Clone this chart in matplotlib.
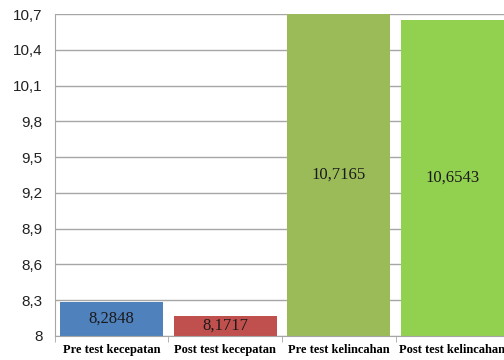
import matplotlib.pyplot as plt
from matplotlib.ticker import FixedLocator

categories = ["Pre test kecepatan", "Post test kecepatan", "Pre test kelincahan", "Post test kelincahan"]
values = [8.2848, 8.1717, 10.7165, 10.6543]
labels = ["8,2848", "8,1717", "10,7165", "10,6543"]
colors = ["#4F81BD", "#C0504D", "#9BBB59", "#92D050"]
yticks = [8, 8.3, 8.6, 8.9, 9.2, 9.5, 9.8, 10.1, 10.4, 10.7]
ytick_labels = ["8", "8,3", "8,6", "8,9", "9,2", "9,5", "9,8", "10,1", "10,4", "10,7"]

fig = plt.figure(figsize=(5.04, 3.6), dpi=100)
ax = fig.add_axes([0.109, 0.0667, 0.901, 0.894])

ymin, ymax = 8, 10.7
x = range(len(categories))
ax.bar(x, [v - ymin for v in values], bottom=ymin, width=0.91, color=colors, zorder=2)
ax.set_xlim(-0.5, len(categories) - 0.5)
ax.set_ylim(ymin, ymax)

# labels sit in the middle of the visible part of each bar
for i, v in enumerate(values):
    ax.text(i, (min(v, ymax) + ymin) / 2, labels[i], ha="center", va="center",
            fontsize=12, family="Liberation Serif", color="#1a1a1a", zorder=3)

ax.set_yticks(yticks)
ax.set_yticklabels(ytick_labels, fontsize=11, family="Liberation Sans", color="#222222")
ax.tick_params(axis="y", length=0, pad=9)
ax.grid(axis="y", color="#A6A6A6", linewidth=1, zorder=0)

ax.set_xticks(list(x))
ax.set_xticklabels(categories, fontsize=9, family="Liberation Serif", fontweight="bold")
ax.tick_params(axis="x", which="major", length=0, pad=6)
ax.xaxis.set_minor_locator(FixedLocator([i - 0.5 for i in range(len(categories) + 1)]))
ax.tick_params(axis="x", which="minor", length=4, color="#A6A6A6")

for s in ["top", "right"]:
    ax.spines[s].set_visible(False)
ax.spines["left"].set_color("#A6A6A6")
ax.spines["bottom"].set_color("#A6A6A6")

fig.savefig("out.png", dpi=100)
